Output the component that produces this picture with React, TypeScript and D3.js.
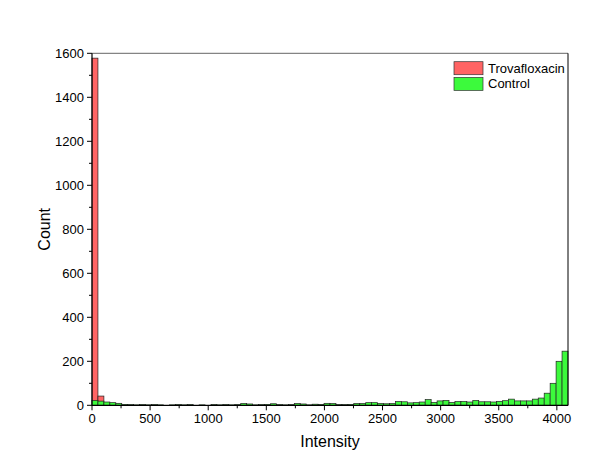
import React from "react";
import * as d3 from "d3";

const BIN_WIDTH = 51.2;
const trovaCounts = [1578, 42];
const controlCounts = [
  22, 19, 15, 12, 9, 4, 3, 2, 3, 2,
  3, 2, 0, 2, 3, 2, 3, 0, 2, 0,
  3, 2, 3, 2, 3, 8, 6, 2, 3, 4,
  7, 3, 2, 3, 8, 6, 2, 5, 4, 9,
  8, 3, 3, 4, 8, 8, 12, 12, 8, 7,
  8, 17, 16, 11, 12, 15, 26, 13, 20, 22,
  13, 17, 17, 15, 22, 16, 16, 15, 18, 21,
  28, 20, 20, 20, 28, 33, 55, 100, 200, 246,
];
const xTicks = [0, 500, 1000, 1500, 2000, 2500, 3000, 3500, 4000];
const xMinor = [250, 750, 1250, 1750, 2250, 2750, 3250, 3750];
const yTicks = [0, 200, 400, 600, 800, 1000, 1200, 1400, 1600];
const yMinor = [100, 300, 500, 700, 900, 1100, 1300, 1500];
const seriesNames = ["Trovafloxacin", "Control"];
const seriesColors = ["#FF6464", "#3CFA3C"];

const W = 605, H = 476;
const L = 92, R = 568, T = 53.3, B = 405.3;

export default function App() {
  const x = d3.scaleLinear().domain([0, 4096]).range([L, R]);
  const y = d3.scaleLinear().domain([0, 1600]).range([B, T]);
  const font = "Arial, 'Liberation Sans', sans-serif";

  const bars = (counts: number[], color: string, key: string) =>
    counts.map((c, i) =>
      c > 0 ? (
        <rect
          key={key + i}
          x={x(i * BIN_WIDTH)}
          y={y(c)}
          width={x((i + 1) * BIN_WIDTH) - x(i * BIN_WIDTH)}
          height={B - y(c)}
          fill={color}
          stroke="#222"
          strokeWidth={0.7}
        />
      ) : null
    );

  return (
    <svg width={W} height={H} style={{ position: "absolute", left: 0, top: 0, background: "#fff" }} fontFamily={font}>
      <rect x={0} y={0} width={W} height={H} fill="#fff" />
      {bars(trovaCounts, seriesColors[0], "t")}
      {bars(controlCounts, seriesColors[1], "c")}
      {/* frame */}
      <line x1={L} x2={R} y1={T} y2={T} stroke="#666" strokeWidth={1} />
      <line x1={R} x2={R} y1={T} y2={B} stroke="#000" strokeWidth={1} />
      <line x1={L} x2={L} y1={T} y2={B} stroke="#000" strokeWidth={1.2} />
      <line x1={L} x2={R} y1={B} y2={B} stroke="#000" strokeWidth={1.2} />
      {/* x ticks */}
      {xTicks.map((t) => (
        <g key={"xt" + t}>
          <line x1={x(t)} x2={x(t)} y1={B} y2={B + 5} stroke="#000" />
          <text x={x(t)} y={423} textAnchor="middle" fontSize={13} fill="#000">{t}</text>
        </g>
      ))}
      {xMinor.map((t) => (
        <line key={"xm" + t} x1={x(t)} x2={x(t)} y1={B} y2={B + 3} stroke="#000" />
      ))}
      {/* y ticks */}
      {yTicks.map((t) => (
        <g key={"yt" + t}>
          <line x1={L - 5} x2={L} y1={y(t)} y2={y(t)} stroke="#000" />
          <text x={L - 8} y={y(t) + 4.5} textAnchor="end" fontSize={13} fill="#000">{t}</text>
        </g>
      ))}
      {yMinor.map((t) => (
        <line key={"ym" + t} x1={L - 3} x2={L} y1={y(t)} y2={y(t)} stroke="#000" />
      ))}
      {/* axis titles */}
      <text x={(L + R) / 2} y={447} textAnchor="middle" fontSize={16} fill="#000">Intensity</text>
      <text transform={`translate(50,${(T + B) / 2}) rotate(-90)`} textAnchor="middle" fontSize={16} fill="#000">Count</text>
      {/* legend */}
      {seriesNames.map((n, i) => (
        <g key={"lg" + n}>
          <rect x={454} y={61.7 + i * 15.7} width={29} height={13} fill={seriesColors[i]} stroke="#333" strokeWidth={0.7} />
          <text x={488} y={72.5 + i * 15.7} fontSize={13} fill="#000">{n}</text>
        </g>
      ))}
    </svg>
  );
}
